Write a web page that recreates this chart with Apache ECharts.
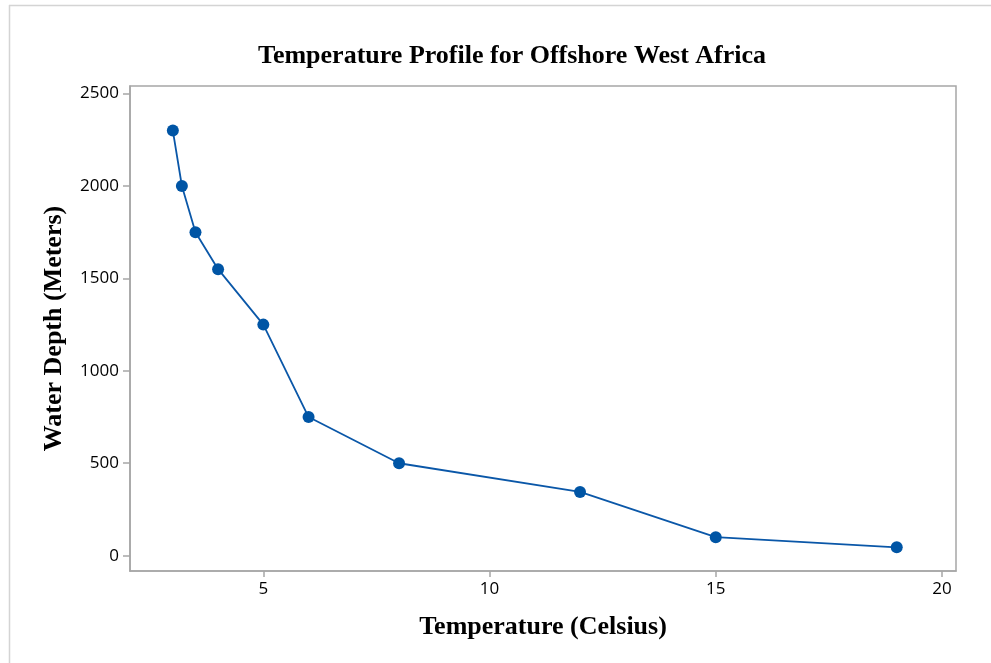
<!DOCTYPE html>
<html>
<head>
<meta charset="utf-8">
<script src="https://cdn.jsdelivr.net/npm/echarts@6/dist/echarts.min.js"></script>
<style>
  html, body { margin: 0; padding: 0; background: #fff; }
  #chart { width: 991px; height: 663px; }
</style>
</head>
<body>
<div id="chart"></div>
<script>
// Temperature (°C) versus water depth (m), offshore West Africa
const temperature = [3, 3.2, 3.5, 4, 5, 6, 8, 12, 15, 19];
const depth = [2300, 2000, 1750, 1550, 1250, 750, 500, 345, 100, 45];
const xTicks = [5, 10, 15, 20];
const yTicks = [0, 500, 1000, 1500, 2000, 2500];

const points = temperature.map((t, i) => [t, depth[i]]);

const axisGray = '#a6a6a6';
const serif = '"Liberation Serif", "Times New Roman", serif';
const sans = '"Open Sans", "Noto Sans", sans-serif';

const chart = echarts.init(document.getElementById('chart'));
chart.setOption({
  backgroundColor: '#ffffff',
  animation: false,
  title: {
    text: 'Temperature Profile for Offshore West Africa',
    left: 507,
    textAlign: 'center',
    top: 38,
    textStyle: { fontFamily: serif, fontWeight: 'bold', fontSize: 26, color: '#000' }
  },
  graphic: [
    { type: 'line', shape: { x1: 9, y1: 5.5, x2: 991, y2: 5.5 }, style: { stroke: '#d4d4d4', lineWidth: 1.5 } },
    { type: 'line', shape: { x1: 9.5, y1: 5, x2: 9.5, y2: 663 }, style: { stroke: '#d4d4d4', lineWidth: 1.5 } }
  ],
  grid: {
    left: 130, right: 35, top: 86, bottom: 92,
    show: true, borderColor: axisGray, borderWidth: 1.5, backgroundColor: 'transparent'
  },
  xAxis: {
    type: 'value',
    min: 2.053,
    max: 20.31,
    name: 'Temperature (Celsius)',
    nameLocation: 'middle',
    nameGap: 43,
    nameTextStyle: { fontFamily: serif, fontWeight: 'bold', fontSize: 26, color: '#000' },
    splitLine: { show: false },
    axisLine: { show: true, onZero: false, lineStyle: { color: axisGray, width: 1.5 } },
    axisTick: { show: true, length: 6, customValues: xTicks, lineStyle: { color: axisGray, width: 1.5 } },
    axisLabel: { customValues: xTicks, margin: 10, fontFamily: sans, fontSize: 17, color: '#000',
                 formatter: v => String(v) }
  },
  yAxis: {
    type: 'value',
    min: -83,
    max: 2541,
    name: 'Water Depth (Meters)',
    nameLocation: 'middle',
    nameGap: 63,
    nameRotate: 90,
    nameTextStyle: { fontFamily: serif, fontWeight: 'bold', fontSize: 26, color: '#000' },
    splitLine: { show: false },
    axisLine: { show: true, onZero: false, lineStyle: { color: axisGray, width: 1.5 } },
    axisTick: { show: true, length: 7, customValues: yTicks, lineStyle: { color: axisGray, width: 1.5 } },
    axisLabel: { customValues: yTicks, margin: 11, fontFamily: sans, fontSize: 17, color: '#000',
                 formatter: v => String(v) }
  },
  series: [{
    type: 'line',
    data: points,
    symbol: 'circle',
    symbolSize: 12,
    lineStyle: { color: '#0a57a8', width: 1.8 },
    itemStyle: { color: '#0055a5' }
  }]
});
</script>
</body>
</html>
